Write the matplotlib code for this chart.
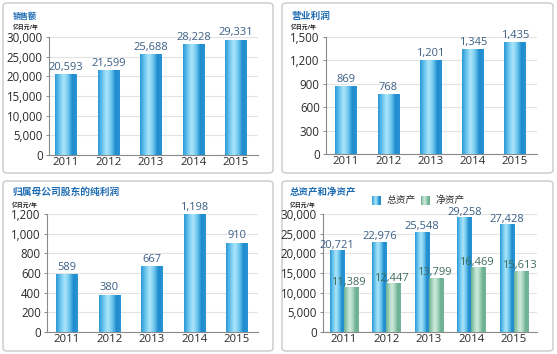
import matplotlib
matplotlib.use("Agg")
import matplotlib.pyplot as plt
import numpy as np
from matplotlib.patches import FancyBboxPatch
from matplotlib.colors import LinearSegmentedColormap

plt.rcParams['font.family'] = ['Open Sans', 'Noto Sans CJK SC', 'DejaVu Sans']

years = ["2011", "2012", "2013", "2014", "2015"]
sales = [20593, 21599, 25688, 28228, 29331]
op_profit = [869, 768, 1201, 1345, 1435]
net_profit = [589, 380, 667, 1198, 910]
total_assets = [20721, 22976, 25548, 29258, 27428]
net_assets = [11389, 12447, 13799, 16469, 15613]

titles = ["销售额", "营业利润", "归属母公司股东的纯利润", "总资产和净资产"]
unit = "亿日元/年"
legend_labels = ["总资产", "净资产"]

W, H = 557, 354
fig = plt.figure(figsize=(W / 100, H / 100), dpi=100)
fig.patch.set_facecolor("white")

blue_cmap = LinearSegmentedColormap.from_list(
    "b", ["#2a98d6", "#6cc6ee", "#aee6fa", "#6fc8ef", "#1e8bcd", "#2a95d4"])
green_cmap = LinearSegmentedColormap.from_list(
    "g", ["#6aae90", "#a3d3bc", "#d2ecdf", "#a6d4bd", "#6aae90", "#76b69a"])

TICK_C = "#2b2b2b"
VAL_C = "#3b5f85"
VAL_G = "#3d6b5c"
TITLE_C = "#1f6db3"
GRAD = np.linspace(0, 1, 64).reshape(1, -1)


def px_rect(x0, x1, ytop, ybot):
    return [x0 / W, (H - ybot) / H, (x1 - x0) / W, (ybot - ytop) / H]


def panel_box(x0, y0, x1, y1):
    box = FancyBboxPatch((x0 / W, (H - y1) / H), (x1 - x0) / W, (y1 - y0) / H,
                         boxstyle="round,pad=0,rounding_size=0.008",
                         transform=fig.transFigure, facecolor="none",
                         edgecolor="#c9c9c9", linewidth=1.0, zorder=-5)
    fig.patches.append(box)


def gradient_bars(ax, bars, cmap):
    for b in bars:
        x0 = b.get_x()
        w = b.get_width()
        h = b.get_height()
        im = ax.imshow(GRAD, extent=[x0, x0 + w, 0, h], aspect="auto",
                       cmap=cmap, zorder=3, interpolation="bicubic")
        im.set_clip_path(b)


def style_axes(ax, ymax, step, xlim):
    ax.set_facecolor("none")
    ax.set_ylim(0, ymax)
    ax.set_xlim(*xlim)
    ticks = np.arange(0, ymax + 1, step)
    ax.set_yticks(ticks)
    ax.set_yticklabels([f"{int(v):,}" for v in ticks])
    ax.set_xticks(range(len(years)))
    ax.set_xticklabels(years)
    ax.grid(axis="y", color="#e3e3e3", linewidth=0.8, zorder=0)
    ax.set_axisbelow(True)
    for s in ["top", "right"]:
        ax.spines[s].set_visible(False)
    for s in ["left", "bottom"]:
        ax.spines[s].set_color("#8a8a8a")
        ax.spines[s].set_linewidth(0.8)
    ax.tick_params(axis="y", labelsize=8.3, labelcolor=TICK_C, color="#8a8a8a",
                   length=2.5, width=0.7, pad=2)
    ax.tick_params(axis="x", labelsize=8.2, labelcolor=TICK_C, length=0, pad=1.5)


def titles_text(tpos, upos, title, tsize):
    fig.text(tpos[0] / W, 1 - tpos[1] / H, title, fontsize=tsize, fontweight="bold",
             color=TITLE_C, va="center", ha="left")
    fig.text(upos[0] / W, 1 - upos[1] / H, unit, fontsize=4.2, fontweight="bold",
             color="#222222", va="center", ha="left")


def single_panel(rect, values, ymax, step, xlim, title, tpos, upos, tsize):
    ax = fig.add_axes(rect)
    bars = ax.bar(range(len(years)), values, width=0.5, facecolor="none",
                  edgecolor="none", zorder=3)
    gradient_bars(ax, bars, blue_cmap)
    style_axes(ax, ymax, step, xlim)
    for i, v in enumerate(values):
        ax.text(i, v + ymax * 0.012, f"{v:,}", ha="center", va="bottom",
                fontsize=8, color=VAL_C, zorder=5)
    titles_text(tpos, upos, title, tsize)
    return ax


# panel boxes
panel_box(3, 3, 273, 173)
panel_box(282, 3, 553, 173)
panel_box(3, 181, 273, 351)
panel_box(282, 181, 553, 351)

single_panel(px_rect(49, 258, 37, 155), sales, 30000, 5000, (-0.4, 4.52),
             titles[0], (13, 16), (13, 27), 5.8)
single_panel(px_rect(326, 537, 37, 154), op_profit, 1500, 300, (-0.47, 4.52),
             titles[1], (291, 16), (291, 27), 7)
single_panel(px_rect(47, 258, 214, 332), net_profit, 1200, 200, (-0.47, 4.5),
             titles[2], (12, 192), (12, 205), 7)

# panel 4: grouped
ax4 = fig.add_axes(px_rect(323, 537, 214, 332))
x = np.arange(len(years))
bw = 0.33
b1 = ax4.bar(x - bw / 2, total_assets, width=bw, facecolor="none",
             edgecolor="none", zorder=3)
b2 = ax4.bar(x + bw / 2, net_assets, width=bw, facecolor="none",
             edgecolor="none", zorder=3)
gradient_bars(ax4, b1, blue_cmap)
gradient_bars(ax4, b2, green_cmap)
style_axes(ax4, 30000, 5000, (-0.49, 4.54))
for i, v in enumerate(total_assets):
    ax4.text(i - bw / 2, v - 150, f"{v:,}", ha="center", va="bottom",
             fontsize=8, color=VAL_C, zorder=5)
for i, v in enumerate(net_assets):
    ax4.text(i + bw / 2 - 0.05, v - 150, f"{v:,}", ha="center", va="bottom",
             fontsize=8, color=VAL_G, zorder=5)
titles_text((290, 192), (290, 205), titles[3], 6.8)

# legend with gradient swatches
for (x0, cmap), lab in zip([(372, blue_cmap), (421, green_cmap)], legend_labels):
    lax = fig.add_axes(px_rect(x0, x0 + 9, 196, 205))
    lax.imshow(GRAD, aspect="auto", cmap=cmap, interpolation="bicubic")
    lax.set_axis_off()
    fig.text((x0 + 15) / W, 1 - 200.5 / H, lab, fontsize=7, color="#333333",
             va="center", ha="left")

fig.savefig("out.png", dpi=100, facecolor="white")
